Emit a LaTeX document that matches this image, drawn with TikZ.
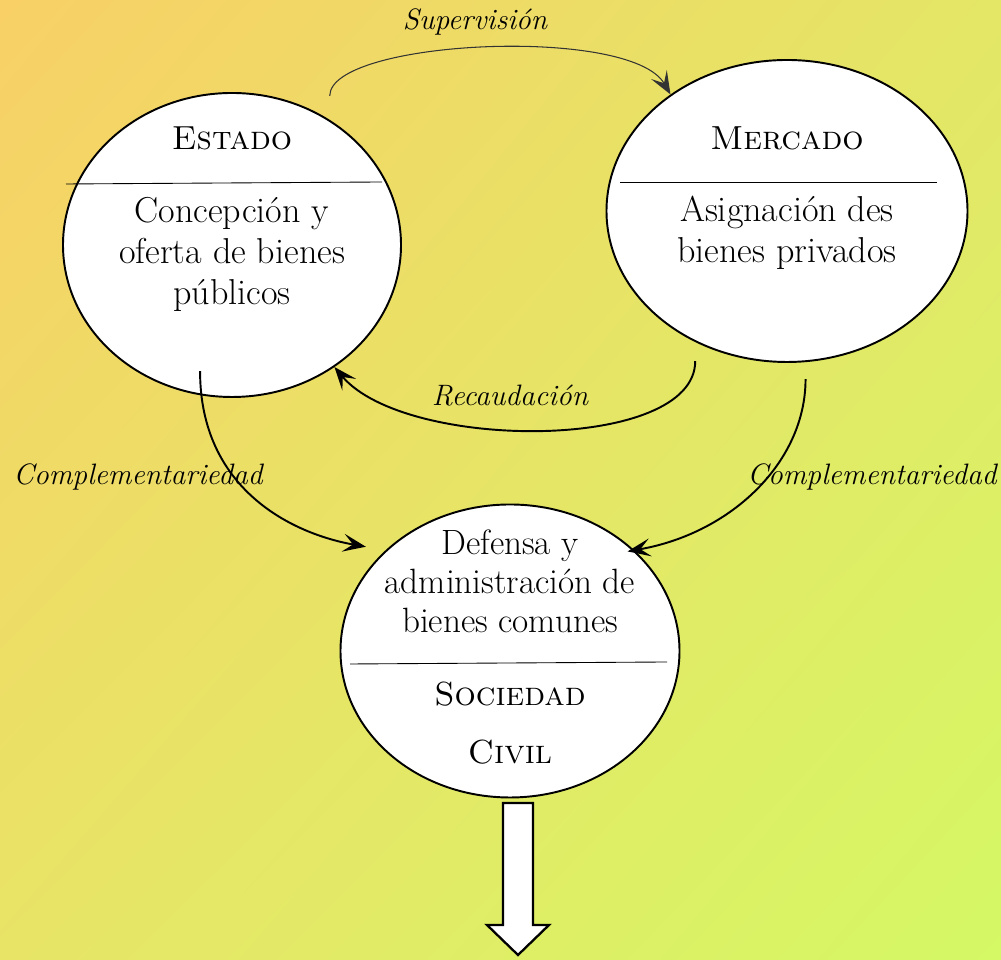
\documentclass[tikz,border=0pt]{standalone}
\usepackage{tikz}
\usetikzlibrary{arrows.meta,shapes.geometric,shadings}

\definecolor{bgTL}{HTML}{F8D066}
\definecolor{bgTR}{HTML}{E4E666}
\definecolor{bgBL}{HTML}{E8E466}
\definecolor{bgBR}{HTML}{D5F865}

\begin{document}
\begin{tikzpicture}[-,auto,thick,
                    main node/.style={ellipse, draw, fill=white, line width=1.1pt},
                    title text/.style={font=\fontsize{19}{23}\selectfont\scshape, align=center},
                    body text/.style={font=\fontsize{20.5}{23.3}\selectfont, align=center},
                    link text/.style={font=\fontsize{16.8}{20}\selectfont\itshape},
                    tip/.tip={Stealth[length=4.6mm, width=3.6mm, inset=2mm]}]

  %Background%
  \shade[upper left=bgTL, upper right=bgTR, lower left=bgBL, lower right=bgBR]
    (0,0) rectangle (20.02,19.2);
  \useasboundingbox (0,0) rectangle (20.02,19.2);

  %Circles%
  \node[main node, minimum width=6.76cm, minimum height=6.08cm] (estado) at (4.64,14.30) {};
  \node[main node, minimum width=7.22cm, minimum height=6.04cm] (mercado) at (15.74,14.98) {};
  \node[main node, minimum width=6.78cm, minimum height=5.86cm] (sociedad) at (10.2,6.18) {};

  \draw[line width=0.5pt] ([shift={(-3.32,1.22)}]estado.center) -- ([shift={(3.0,1.26)}]estado.center);
  \draw[line width=0.5pt] ([shift={(-3.34,0.58)}]mercado.center) -- ([shift={(3.0,0.58)}]mercado.center);
  \draw[line width=0.5pt] ([shift={(-3.2,-0.26)}]sociedad.center) -- ([shift={(3.14,-0.22)}]sociedad.center);

  %Texts%
  \node[title text] (estadoT) at (4.64,16.44) {Estado};
  \node[body text] (estadoB) at (4.64,14.12) {Concepción y\\oferta de bienes\\públicos};
  \node[title text] (mercadoT) at (15.74,16.44) {Mercado};
  \node[body text] (mercadoB) at (15.74,14.54) {Asignación des\\bienes privados};
  \node[body text, font=\fontsize{20}{22.2}\selectfont] (sociedadB) at (10.2,7.58) {Defensa y\\administración de\\bienes comunes};
  \node[title text, font=\fontsize{19}{33}\selectfont\scshape] (sociedadT) at (10.2,4.74) {Sociedad\\Civil};

  %Arrows%
  \path[every edge/.style={draw, line width=1.1pt, -tip}]
    (estado.52) edge[out=90, in=120, looseness=0.6, shorten <=0.48cm,
                     line width=0.6pt, draw=black!80] (mercado.135)
    (mercado.-125) edge[out=-90, in=-50, looseness=0.78, shorten <=0.38cm] (estado.-50)
    (estado.-102) edge[out=-90, in=170, shorten <=-0.48cm, shorten >=0.4cm] (sociedad.141)
    (mercado.-83) edge[out=-90, in=10, shorten <=0.34cm, shorten >=-0.14cm] (sociedad.39);

  \node[link text] (supervision) at (9.5,18.76) {Supervisión};
  \node[link text] (recaudacion) at (10.2,11.28) {Recaudación};
  \node[link text] (complIzq) at (2.76,9.66) {Complementariedad};
  \node[link text] (complDer) at (17.44,9.66) {Complementariedad};

  %Big arrow%
  \draw[line width=1.3pt, fill=white] (10.06,3.14) -- (10.66,3.14) -- (10.66,0.70)
    -- (10.98,0.70) -- (10.36,0.10) -- (9.74,0.70) -- (10.06,0.70) -- cycle;
\end{tikzpicture}
\end{document}
